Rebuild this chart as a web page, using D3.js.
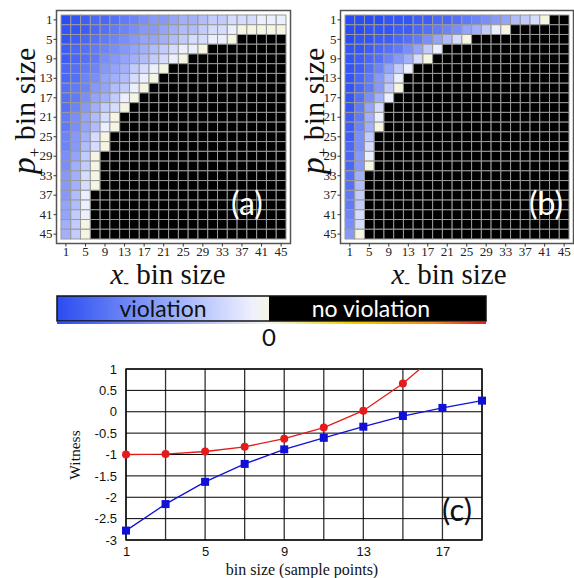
<!DOCTYPE html>
<html>
<head>
<meta charset="utf-8">
<script src="https://cdn.jsdelivr.net/npm/d3@7"></script>
<style>
  body { margin: 0; background: #fff; }
  .serif, .serif tspan { font-family: "Liberation Serif", "Times New Roman", serif; }
</style>
</head>
<body>
<svg id="fig" width="574" height="578"></svg>
<script>
var SERIF = "Liberation Serif";
var SANS = "Liberation Sans";
var LATO = "Lato";

// bin sizes on both heatmap axes
var bins = [1, 3, 5, 7, 9, 11, 13, 15, 17, 19, 21, 23, 25, 27, 29, 31, 33, 35, 37, 39, 41, 43, 45];
var heatTicks = [1, 5, 9, 13, 17, 21, 25, 29, 33, 37, 41, 45];

// violation strength per cell, one string per p+ row (hex 0-f, 0 = just below zero)
// cells past the end of a string are "no violation"
var heatA = [
  "fedccba9877655433222111",
  "eedcba98776544322100000",
  "edcba9876654322110",
  "dcba98765432110",
  "dcba876543210",
  "cba97653210",
  "cb98654210",
  "ba9764310",
  "ba865310",
  "b975320",
  "a86420",
  "a86410",
  "97520",
  "97420",
  "8630",
  "8530",
  "7520",
  "7520",
  "741",
  "641",
  "631",
  "530",
  "530"
];

var heatB = [
  "ffffeeeddccba98764320",
  "ffeeeddcba9865310",
  "feeddcba86420",
  "eedcba8631",
  "edcb97520",
  "edb9631",
  "eca741",
  "eca730",
  "eb851",
  "ea62",
  "da51",
  "d950",
  "d83",
  "c82",
  "c71",
  "c70",
  "b5",
  "b4",
  "a3",
  "a3",
  "92",
  "82",
  "70"
];

// panel (c): witness vs bin size
var binSize = [1, 3, 5, 7, 9, 11, 13, 15, 17, 19];
var witnessRed = [-1.0, -0.99, -0.93, -0.82, -0.63, -0.37, 0.025, 0.66, 1.45];
var witnessBlue = [-2.78, -2.16, -1.64, -1.22, -0.88, -0.61, -0.35, -0.10, 0.09, 0.26];
var xTicksC = [1, 5, 9, 13, 17];
var yTicksC = [1, 0.5, 0, -0.5, -1, -1.5, -2, -2.5, -3];

var svg = d3.select("#fig");

var blueScale = d3.scalePow().exponent(0.65).domain([1, 15]).range(["#eceffe", "#2a4cf5"]);
function heatColor(v) {
  if (v === null) return "#000";
  if (v === 0) return "#f5f5e2";
  return blueScale(v);
}

function drawHeat(rows, box, label) {
  var g = svg.append("g");
  var x = d3.scaleBand().domain(bins).range([box.x0, box.x1]);
  var y = d3.scaleBand().domain(bins).range([box.y0, box.y1]);

  var cells = [];
  rows.forEach(function(s, i) {
    bins.forEach(function(b, j) {
      cells.push({ p: bins[i], xm: b, v: j < s.length ? parseInt(s[j], 16) : null });
    });
  });

  // frame
  g.append("rect")
    .attr("x", box.x0 - 4.5).attr("y", box.y0 - 4.5)
    .attr("width", box.x1 - box.x0 + 9).attr("height", box.y1 - box.y0 + 9)
    .attr("fill", "#fff").attr("stroke", "#555").attr("stroke-width", 1.5);

  g.selectAll("rect.cell")
    .data(cells)
    .join("rect")
    .attr("class", "cell")
    .attr("x", d => x(d.xm))
    .attr("y", d => y(d.p))
    .attr("width", x.bandwidth())
    .attr("height", y.bandwidth())
    .attr("fill", d => heatColor(d.v))
    .attr("stroke", "#9a9a9a")
    .attr("stroke-width", 1);

  var bottom = g.append("g")
    .attr("transform", `translate(0, ${box.y1 + 4.5})`)
    .call(d3.axisBottom(x).tickValues(heatTicks).tickSize(3).tickPadding(0));
  var left = g.append("g")
    .attr("transform", `translate(${box.x0 - 4.5}, 0)`)
    .call(d3.axisLeft(y).tickValues(heatTicks).tickSize(3).tickPadding(1));
  [bottom, left].forEach(function(a) {
    a.attr("font-family", SERIF).attr("font-size", 13);
    a.select(".domain").remove();
    a.selectAll("text").attr("class", "serif").attr("fill", "#222");
    a.selectAll("line").attr("stroke", "#333");
  });

  // x label
  var xl = g.append("text")
    .attr("class", "serif")
    .attr("x", box.xlab).attr("y", 284)
    .attr("text-anchor", "middle")
    .attr("font-family", SERIF)
    .attr("font-size", 29)
    .attr("fill", "#111");
  xl.append("tspan").attr("font-family", SERIF).attr("font-style", "italic").text("x");
  xl.append("tspan").attr("font-family", SERIF).attr("font-size", 17).attr("dy", 4).text("-");
  xl.append("tspan").attr("font-family", SERIF).attr("dy", -4).text(" bin size");

  // y label
  var yl = g.append("text")
    .attr("class", "serif")
    .attr("transform", `translate(${box.ylab}, 111) rotate(-90)`)
    .attr("text-anchor", "middle")
    .attr("font-family", SERIF)
    .attr("font-size", 30)
    .attr("fill", "#111");
  yl.append("tspan").attr("font-family", SERIF).attr("font-style", "italic").attr("font-size", 34).text("p");
  yl.append("tspan").attr("font-family", SERIF).attr("font-size", 17).attr("dy", 5).text("+");
  yl.append("tspan").attr("font-family", SERIF).attr("dy", -5).text(" bin size");

  g.append("text")
    .attr("x", box.labx).attr("y", 215)
    .attr("text-anchor", "middle")
    .attr("font-family", LATO)
    .attr("font-size", 32)
    .attr("fill", "#fff")
    .text(label);
}

drawHeat(heatA, { x0: 61, x1: 286, y0: 15, y1: 239, xlab: 168, ylab: 35, labx: 247 }, "(a)");
drawHeat(heatB, { x0: 345, x1: 569, y0: 15, y1: 239, xlab: 449, ylab: 324, labx: 546 }, "(b)");

// colour bar
var defs = svg.append("defs");
var gradBar = defs.append("linearGradient").attr("id", "gradBar");
gradBar.append("stop").attr("offset", "0%").attr("stop-color", "#2a4cf0");
gradBar.append("stop").attr("offset", "50%").attr("stop-color", "#8ea4fa");
gradBar.append("stop").attr("offset", "92%").attr("stop-color", "#eef0fe");
gradBar.append("stop").attr("offset", "100%").attr("stop-color", "#f5f5e2");

var gradLine = defs.append("linearGradient").attr("id", "gradLine");
[["0%", "#2a4cf0"], ["49%", "#f4f4f4"], ["68%", "#f2d200"], ["88%", "#f08a20"], ["100%", "#e02020"]]
  .forEach(s => gradLine.append("stop").attr("offset", s[0]).attr("stop-color", s[1]));

var barX = d3.scaleLinear().domain([-1, 0, 1]).range([57, 269, 486]);
svg.append("rect")
  .attr("x", barX(-1)).attr("y", 296).attr("width", barX(0) - barX(-1)).attr("height", 25)
  .attr("fill", "url(#gradBar)");
svg.append("rect")
  .attr("x", barX(0)).attr("y", 296).attr("width", barX(1) - barX(0)).attr("height", 25)
  .attr("fill", "#000");
svg.append("rect")
  .attr("x", barX(-1)).attr("y", 296).attr("width", barX(1) - barX(-1)).attr("height", 25)
  .attr("fill", "none").attr("stroke", "#111").attr("stroke-width", 1.5);
svg.append("rect")
  .attr("x", barX(-1)).attr("y", 322).attr("width", barX(1) - barX(-1)).attr("height", 2)
  .attr("fill", "url(#gradLine)");
svg.append("text")
  .attr("x", barX(-0.5)).attr("y", 317).attr("text-anchor", "middle")
  .attr("font-family", LATO).attr("font-size", 23).attr("fill", "#111").text("violation");
svg.append("text")
  .attr("x", barX(0.47)).attr("y", 317).attr("text-anchor", "middle")
  .attr("font-family", LATO).attr("font-size", 23).attr("fill", "#fff").text("no violation");
svg.append("text")
  .attr("x", barX(0)).attr("y", 346).attr("text-anchor", "middle")
  .attr("font-family", LATO).attr("font-size", 24).attr("fill", "#111").text("0");

// panel (c)
var cx = d3.scaleLinear().domain([1, 19]).range([126, 482]);
var cy = d3.scaleLinear().domain([-3, 1]).range([540, 369]);
var gc = svg.append("g");

gc.append("clipPath").attr("id", "clipC")
  .append("rect").attr("x", cx(1)).attr("y", cy(1)).attr("width", cx(19) - cx(1)).attr("height", cy(-3) - cy(1));

gc.selectAll("line.v")
  .data(binSize)
  .join("line")
  .attr("x1", d => cx(d)).attr("x2", d => cx(d))
  .attr("y1", cy(-3)).attr("y2", cy(1))
  .attr("stroke", "#333").attr("stroke-width", 1.3);
gc.selectAll("line.h")
  .data(yTicksC)
  .join("line")
  .attr("x1", cx(1)).attr("x2", cx(19))
  .attr("y1", d => cy(d)).attr("y2", d => cy(d))
  .attr("stroke", "#000").attr("stroke-width", 1);
gc.append("rect")
  .attr("x", cx(1)).attr("y", cy(1)).attr("width", cx(19) - cx(1)).attr("height", cy(-3) - cy(1))
  .attr("fill", "none").attr("stroke", "#000").attr("stroke-width", 1.3);

var xAxisC = gc.append("g")
  .attr("transform", `translate(0, ${cy(-3)})`)
  .call(d3.axisBottom(cx).tickValues(xTicksC).tickSize(0).tickPadding(7).tickFormat(d => String(d)));
var yAxisC = gc.append("g")
  .attr("transform", `translate(${cx(1)}, 0)`)
  .call(d3.axisLeft(cy).tickValues(yTicksC).tickSize(0).tickPadding(9).tickFormat(d => String(d)));
[xAxisC, yAxisC].forEach(function(a) {
  a.attr("font-family", SANS).attr("font-size", 13);
  a.select(".domain").remove();
  a.selectAll("text").attr("fill", "#111");
});

var line = d3.line().x(d => cx(d[0])).y(d => cy(d[1]));
var redPts = witnessRed.map((v, i) => [binSize[i], v]);
var bluePts = witnessBlue.map((v, i) => [binSize[i], v]);

var plot = gc.append("g").attr("clip-path", "url(#clipC)");
plot.append("path").datum(redPts).attr("d", line)
  .attr("fill", "none").attr("stroke", "#e51b1b").attr("stroke-width", 1.3);
plot.append("path").datum(bluePts).attr("d", line)
  .attr("fill", "none").attr("stroke", "#1010d8").attr("stroke-width", 1.3);

gc.selectAll("circle.red")
  .data(redPts.filter(d => d[1] <= 1))
  .join("circle")
  .attr("cx", d => cx(d[0])).attr("cy", d => cy(d[1])).attr("r", 4)
  .attr("fill", "#e51b1b");
gc.selectAll("rect.blue")
  .data(bluePts)
  .join("rect")
  .attr("x", d => cx(d[0]) - 4).attr("y", d => cy(d[1]) - 4)
  .attr("width", 8).attr("height", 8)
  .attr("fill", "#1010d8");

gc.append("text")
  .attr("class", "serif")
  .attr("x", 302).attr("y", 575).attr("text-anchor", "middle")
  .attr("font-family", SERIF).attr("font-size", 16).attr("fill", "#111").text("bin size (sample points)");
gc.append("text")
  .attr("class", "serif")
  .attr("transform", "translate(80, 455) rotate(-90)").attr("text-anchor", "middle")
  .attr("font-family", SERIF).attr("font-size", 15.5).attr("fill", "#111").text("Witness");
gc.append("text")
  .attr("x", 457).attr("y", 521).attr("text-anchor", "middle")
  .attr("font-family", LATO).attr("font-size", 31).attr("fill", "#111").text("(c)");
</script>
</body>
</html>
